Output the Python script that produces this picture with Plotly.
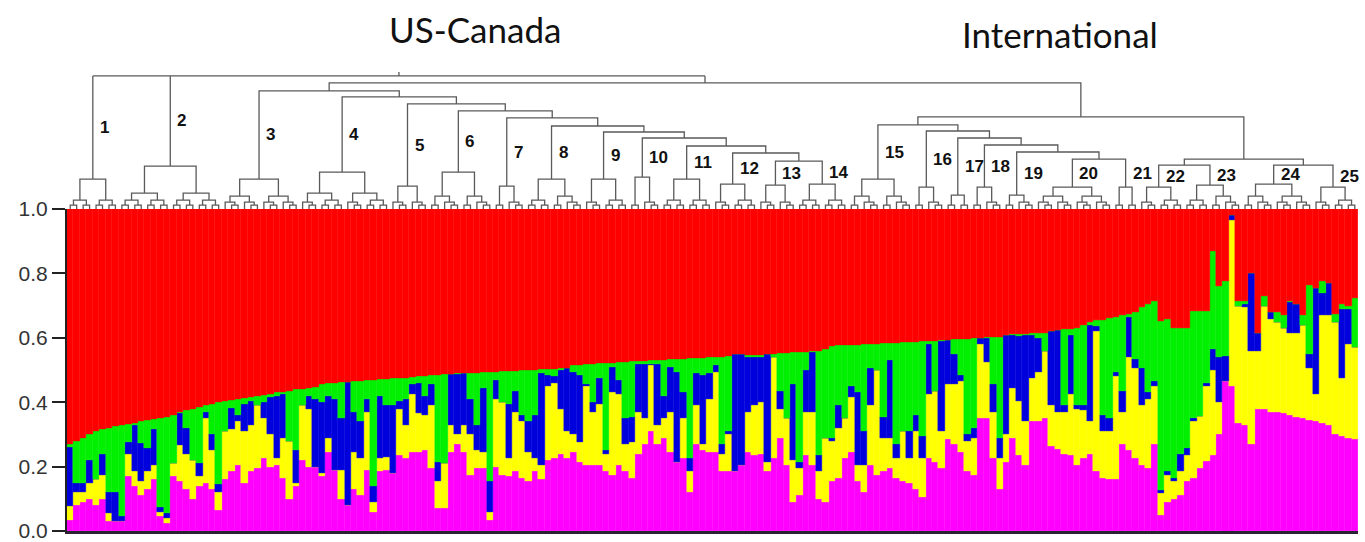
import plotly.graph_objects as go
import numpy as np

# ---------------- data (percent, cumulative tops of each colour, bottom -> top) -------------
magenta_top = [
    3.4, 8, 9, 10, 8, 10, 3, 3, 3, 17,
    14, 11, 13, 16, 4.5, 2.4, 17, 15.4, 13, 10,
    14, 15, 13, 6.5, 16, 18.5, 20.5, 15, 18.5, 19.5,
    22.5, 20, 20.5, 16.5, 10, 14, 22, 20, 20, 17,
    24.5, 19, 10, 8, 13, 11, 19, 6, 18.5, 19,
    18, 23.5, 22.5, 24.5, 24.5, 25, 19.5, 7, 7, 24.5,
    27, 24.5, 17.5, 19.5, 19.5, 3.4, 20, 17.5, 17, 18.5,
    16.5, 15.5, 18.5, 16, 22, 22.5, 24, 22.5, 24.5, 21.5,
    20.5, 20.5, 20.5, 18.5, 17.5, 20.5, 18.5, 16.5, 24, 27,
    31, 27, 29, 24.5, 21.5, 22.5, 12, 27, 25, 24.5,
    24.5, 18.5, 18.5, 18.5, 20.5, 24.5, 23.5, 24, 18.5, 22.5,
    29, 20.5, 9, 11, 23.5, 20.5, 10, 9, 15.5, 16.5,
    22.5, 24.5, 15.5, 12, 20.5, 17.5, 18.5, 19.5, 16.5, 15.5,
    15, 13, 10.5, 22.5, 21.5, 19.5, 28.5, 27, 24.5, 18.5,
    17.5, 35, 35, 22.5, 13, 21.5, 29, 23.5, 20.5, 34,
    34, 35, 26.5, 25.5, 24, 23.5, 20.5, 22.5, 24, 18.5,
    16.5, 16, 16, 27, 25, 22.5, 20.5, 19.5, 27, 5,
    9, 10, 11, 15.4, 16.4, 19.5, 21.6, 23.7, 30, 46.5,
    45, 33.5, 33, 27, 38, 38, 37, 37, 36.5, 36,
    35.5, 35, 34.5, 34, 33.5, 33, 30, 29.5, 29, 28.5,
]
yellow_top = [
    7.6, 12, 12, 14.8, 16, 17.5, 5.5, 3, 3, 24,
    18.5, 15.4, 18.5, 20.5, 6, 4, 21, 26.8, 24, 22,
    17, 35, 25, 12, 31, 31.6, 34, 31, 33, 39,
    35, 30, 22.5, 29, 28, 15, 39, 38, 20, 18,
    29, 19, 19, 8, 24.5, 22.5, 37, 9, 22.5, 23,
    18, 38, 33, 42.5, 36.5, 36, 39, 15.5, 21, 33,
    30, 33, 30, 25, 24.5, 6, 41, 40, 22.5, 37,
    34, 24.5, 22.5, 20.5, 45, 46, 38, 31, 30, 27.5,
    45, 37, 39.5, 24, 43, 42.5, 27, 27.5, 37, 35,
    51.5, 33, 35, 37, 21.5, 35, 18.5, 39, 27, 41,
    49.5, 24, 30, 18.5, 20.5, 37, 39, 40, 21.5, 54,
    38, 35, 22, 19.5, 37, 37, 18.5, 29, 28, 32,
    35, 41.5, 20.5, 20.5, 39, 50, 29, 29, 22.5, 31,
    22.5, 31, 22.5, 42.5, 43.5, 31, 45.5, 45.5, 46.5, 28,
    29, 58, 52.5, 37, 22.5, 30, 44.5, 40.5, 34, 47.5,
    49.5, 56, 39, 37, 37, 42.5, 38, 37.5, 34, 62,
    31, 31, 48, 37, 54, 50.5, 39, 41, 45, 11.7,
    17.5, 15.4, 18.5, 23.7, 34, 35.6, 45, 50, 40, 46.5,
    96.5, 70, 69.5, 56, 56, 70, 65.7, 65, 63, 61.5,
    61.5, 64, 50.5, 42.5, 67, 67, 65, 47.5, 58, 57,
]
blue_top = [
    26, 15, 15, 22, 16, 23.8, 12, 12, 4.5, 27.5,
    33, 27.3, 25.8, 31.5, 7.5, 5.5, 21, 36.5, 32, 22,
    21, 37, 30, 14.5, 31, 38.3, 36, 39.5, 40.5, 39,
    40, 41.5, 42, 42.5, 28, 25, 39, 42, 41, 40,
    42, 41, 35, 46.3, 37, 34, 41, 14, 41.8, 39,
    39, 40.5, 41, 45.5, 46, 42, 45.5, 21.5, 21, 48.7,
    48.8, 49, 41, 33, 44.5, 15.4, 47, 40, 39.5, 43.5,
    36, 34, 36, 49, 48.5, 48, 50, 50.5, 49.5, 48.5,
    45.5, 40, 47.5, 25, 51, 47, 35, 35.5, 52, 51.7,
    51.7, 51.7, 42, 51, 49.5, 43, 22.5, 49, 48.5, 49,
    51.5, 27, 31, 55, 55, 54, 54, 54, 55, 54,
    43.5, 35, 45.5, 21.5, 50, 55.5, 23.5, 29, 29, 39,
    35, 45, 43, 31, 50.5, 50, 35.5, 53, 27, 31,
    31, 36, 29.5, 58, 43.5, 59, 59.3, 55, 48.5, 30,
    32, 59.9, 60, 45.5, 29, 61, 61, 60.5, 61, 61,
    60, 56, 62, 62.5, 39, 61, 39, 39, 64, 63.5,
    36, 35, 49.5, 43.5, 66.5, 53.5, 50.5, 43, 46.5, 12.7,
    18.5, 16.4, 24, 25.8, 35, 35.6, 46, 56.4, 54, 54.3,
    98, 70, 70.5, 80, 61.6, 70, 68, 65, 63, 71,
    70.5, 64, 55, 75.5, 74, 77, 65, 69, 69, 57,
]
green_top = [
    27, 28, 29, 30, 31, 31.5, 32, 32.5, 33, 33.3,
    33.6, 34, 34.3, 34.7, 35, 35.5, 36, 37, 37.5, 38,
    38.5, 39, 39.5, 40, 40.3, 40.6, 41, 41.3, 41.6, 42,
    42.3, 42.6, 43, 43.2, 43.5, 44, 44.2, 44.5, 44.8, 45.5,
    45.8, 46, 46.2, 46.4, 46.5, 46.6, 46.8, 47, 47.1, 47.3,
    47.4, 47.5, 47.6, 47.8, 48, 48.2, 48.4, 48.5, 48.6, 48.8,
    48.9, 49, 49.1, 49.2, 49.3, 49.4, 49.5, 49.6, 49.7, 49.8,
    49.9, 50, 50.1, 50.2, 50.3, 50.4, 50.5, 50.6, 51.5, 51.6,
    51.8, 52, 52.1, 52.2, 52.3, 52.5, 52.6, 52.7, 52.8, 52.9,
    53, 53.1, 53.2, 53.3, 53.4, 53.5, 53.6, 53.7, 53.8, 53.9,
    54, 54.1, 54.2, 55, 55, 54.5, 54.6, 54.7, 55, 55,
    55.3, 55.4, 55.5, 55.6, 55.7, 55.8, 56, 56.5, 57.5, 57.6,
    57.7, 57.8, 57.9, 58, 58.1, 58.2, 58.3, 58.4, 58.5, 58.6,
    58.7, 58.8, 58.9, 59, 59.1, 59.2, 59.4, 59.5, 59.6, 59.7,
    59.8, 60, 60.1, 60.2, 60.3, 61, 61.1, 61.2, 61.3, 61.4,
    61.5, 61.6, 62, 62.5, 62.6, 62.8, 63, 64, 65, 65.4,
    65.6, 66, 66.3, 67, 67.5, 68, 69.5, 70.5, 71.3, 65.2,
    65.7, 63, 63, 63, 68.3, 68.3, 68.3, 87, 76, 77.7,
    98, 71.5, 71.5, 80, 61.6, 73, 68, 68, 67, 71.5,
    70.5, 67, 76.5, 75.5, 77.5, 77, 67.5, 70.5, 70, 72.5,
]

# cluster membership (first / last individual) and height of each cluster's own root
cluster_labels = [str(k) for k in range(1, 26)]
cluster_first = [0, 8, 24, 36, 50, 56, 66, 71, 80, 87, 92, 100, 107, 113, 121,
                 131, 136, 140, 145, 150, 162, 166, 173, 182, 193]
cluster_last = [7, 23, 35, 49, 55, 65, 70, 79, 86, 91, 99, 106, 112, 120, 130,
                135, 139, 144, 149, 161, 165, 172, 181, 192, 199]
cluster_height = [30, 43, 30, 37, 23, 37, 23, 30, 30, 32, 30, 25, 24, 25, 30,
                  22, 14, 22, 14, 22, 22, 22, 24, 25, 22]
# heights of the higher-level merges
merge_height = {
    "B13": 48, "B12": 56, "B11": 63, "B10": 71, "B9": 77, "B8": 83, "B7": 91,
    "B6": 98, "B5": 105, "B4": 112, "US": 118,
    "J20": 50, "J19": 57, "J18": 64, "J17": 71, "J16": 78, "I15": 84,
    "K1": 44, "K2": 44, "K": 50, "INT": 92, "A": 126, "ROOT": 133,
}
tick_top = 137

colors = {
    "magenta": "#FF00FF",
    "yellow": "#FFFF00",
    "blue": "#0000DC",
    "green": "#00F000",
    "red": "#FF0000",
}

# ---------------- bars ----------------
N = len(green_top)
xs = np.arange(N)
mt = np.array(magenta_top) / 100
yt = np.array(yellow_top) / 100
bt = np.array(blue_top) / 100
gt = np.array(green_top) / 100
layers = [
    ("magenta", np.zeros(N), mt),
    ("yellow", mt, yt),
    ("blue", yt, bt),
    ("green", bt, gt),
    ("red", gt, np.ones(N)),
]

fig = go.Figure()
for name, lo, hi in layers:
    fig.add_trace(go.Bar(
        x=xs, y=hi - lo, base=lo, width=1.0, name=name,
        marker=dict(color=colors[name], line=dict(width=0.4, color=colors[name])),
        showlegend=False, hoverinfo="skip", xaxis="x", yaxis="y",
    ))

# ---------------- dendrogram ----------------
seg_x, seg_y = [], []


def u_link(a, b, h):
    seg_x.extend([a["x"], a["x"], b["x"], b["x"], None])
    seg_y.extend([a["h"], h, h, b["h"], None])


def sub_height(n):
    if n == 2:
        return 4
    if n == 3:
        return 7
    if n == 4:
        return 9
    if n <= 6:
        return 13
    if n <= 8:
        return 16
    return 20


def subtree(lo, hi, h_top=None):
    n = hi - lo + 1
    if n == 1:
        return {"x": float(lo), "h": 0.0}
    k = n // 2
    left = subtree(lo, lo + k - 1)
    right = subtree(lo + k, hi)
    h = h_top if h_top is not None else sub_height(n)
    u_link(left, right, h)
    return {"x": (left["x"] + right["x"]) / 2, "h": h}


def join(a, b, h):
    u_link(a, b, h)
    a["parent_h"] = h
    b["parent_h"] = h
    return {"x": (a["x"] + b["x"]) / 2, "h": h}


C = [subtree(f, l, h) for f, l, h in zip(cluster_first, cluster_last, cluster_height)]
mh = merge_height
node = join(C[12], C[13], mh["B13"])
for ci, key in zip(range(11, 2, -1), ["B12", "B11", "B10", "B9", "B8", "B7", "B6", "B5", "B4"]):
    node = join(C[ci], node, mh[key])
us = join(C[2], node, mh["US"])

node = join(C[19], C[20], mh["J20"])
for ci, key in zip(range(18, 13, -1), ["J19", "J18", "J17", "J16", "I15"]):
    node = join(C[ci], node, mh[key])
k1 = join(C[21], C[22], mh["K1"])
k2 = join(C[23], C[24], mh["K2"])
kk = join(k1, k2, mh["K"])
intl = join(node, kk, mh["INT"])
A = join(us, intl, mh["A"])

# three-way root (clusters 1, 2 and the rest)
hr = mh["ROOT"]
for nd in (C[0], C[1], A):
    seg_x.extend([nd["x"], nd["x"], None])
    seg_y.extend([nd["h"], hr, None])
    nd["parent_h"] = hr
seg_x.extend([C[0]["x"], A["x"], None])
seg_y.extend([hr, hr, None])
root_x = (C[0]["x"] + A["x"]) / 2
seg_x.extend([root_x, root_x, None])
seg_y.extend([hr, tick_top, None])

fig.add_trace(go.Scatter(
    x=seg_x, y=seg_y, mode="lines", line=dict(color="#5a5a5a", width=1.3),
    showlegend=False, hoverinfo="skip", xaxis="x", yaxis="y2",
))

annotations = []
for lab, c in zip(cluster_labels, C):
    annotations.append(dict(
        x=c["x"], y=(c["h"] + c["parent_h"]) / 2, xref="x", yref="y2",
        text="<b>%s</b>" % lab, showarrow=False, xanchor="left", yanchor="middle", xshift=5,
        font=dict(family="Liberation Sans, Arial", size=17, color="#111"),
    ))
annotations.append(dict(x=0.316, y=0.9678, xref="paper", yref="paper", text="US-Canada",
                        xanchor="center", yanchor="middle", showarrow=False,
                        font=dict(family="Lato", size=35, color="#111")))
annotations.append(dict(x=0.769, y=0.958, xref="paper", yref="paper", text="International",
                        xanchor="center", yanchor="middle", showarrow=False,
                        font=dict(family="Lato", size=35, color="#111")))

fig.update_layout(
    width=1365, height=542, autosize=False,
    margin=dict(l=67, r=7, t=0, b=11),
    paper_bgcolor="white", plot_bgcolor="white",
    barmode="overlay", bargap=0,
    xaxis=dict(range=[-0.5, N - 0.5], showgrid=False, zeroline=False, showticklabels=False,
               ticks="", showline=True, linecolor="#2a2233", linewidth=3, anchor="y"),
    yaxis=dict(domain=[0.0, 0.6202], range=[0, 1], showgrid=False, zeroline=False,
               tickvals=[0, 0.2, 0.4, 0.6, 0.8, 1.0],
               ticktext=["0.0", "0.2", "0.4", "0.6", "0.8", "1.0"],
               ticks="outside", ticklen=13, tickwidth=2, tickcolor="#222",
               ticklabeloverflow="allow",
               showline=True, linecolor="#222", linewidth=2,
               tickfont=dict(family="Liberation Sans, Arial", size=21, color="#333")),
    yaxis2=dict(domain=[0.6202, 0.8904], range=[0, 140], visible=False, anchor="x"),
    annotations=annotations,
)

fig.write_html(
    "out.html",
    config={"responsive": False, "displayModeBar": False},
    post_script=(
        "document.body.style.margin='0';"
        "document.body.style.overflow='hidden';"
        "document.documentElement.style.overflow='hidden';"
        "var gd=document.getElementById('{plot_id}');"
        "gd.style.position='absolute';gd.style.top='0px';gd.style.left='0px';"
    ),
)
